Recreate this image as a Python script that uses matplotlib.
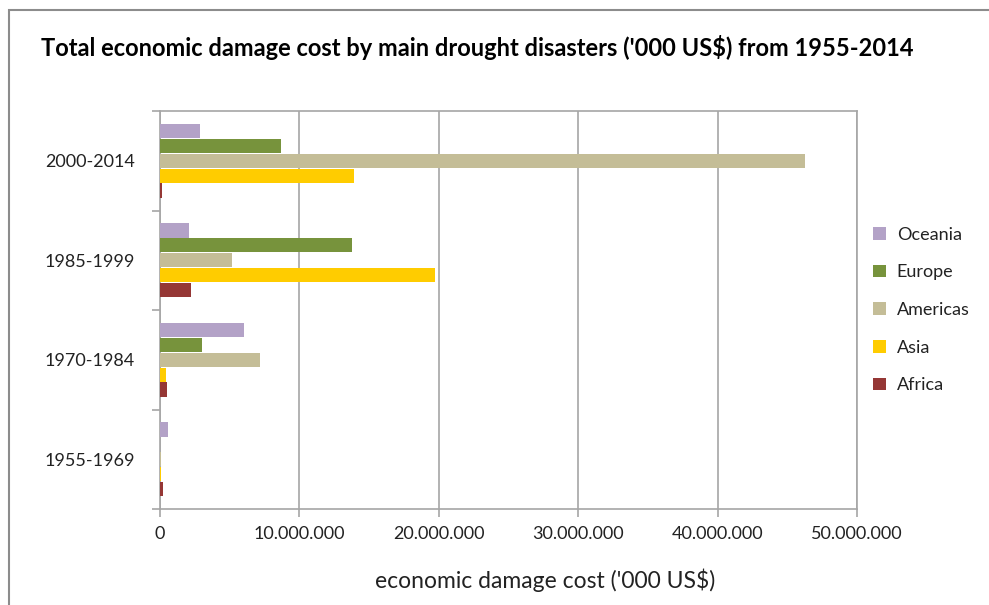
import matplotlib
matplotlib.use("Agg")
import matplotlib.pyplot as plt
from matplotlib.patches import Rectangle
from matplotlib.ticker import FuncFormatter, FixedLocator

plt.rcParams['font.family'] = ['Lato', 'DejaVu Sans']

periods = ["1955-1969", "1970-1984", "1985-1999", "2000-2014"]
regions = ["Oceania", "Europe", "Americas", "Asia", "Africa"]
colors = ["#B3A2C7", "#77933C", "#C4BD97", "#FFCC00", "#953735"]

# damage cost per period, '000 US$
oceania = [600000, 6000000, 2100000, 2850000]
europe = [0, 3000000, 13800000, 8650000]
americas = [100000, 7200000, 5200000, 46300000]
asia = [100000, 400000, 19700000, 13900000]
africa = [200000, 500000, 2200000, 150000]
values = [oceania, europe, americas, asia, africa]

fig = plt.figure(figsize=(9.89, 6.05), dpi=100)
ax = fig.add_axes([160 / 989, 1 - 509 / 605, 697 / 989, 398 / 605])

bar_h = 0.15
offsets = [0.3, 0.15, 0.0, -0.15, -0.3]
handles = []
for name, vals, col, off in zip(regions, values, colors, offsets):
    ys = [i + off for i in range(len(periods))]
    b = ax.barh(ys, vals, height=bar_h * 0.96, color=col, edgecolor="none",
                label=name, zorder=3)
    handles.append(b)

ax.set_xlim(0, 50000000)
ax.set_ylim(-0.5, len(periods) - 0.5)
ax.set_xticks(range(0, 50000001, 10000000))
ax.xaxis.set_major_formatter(FuncFormatter(lambda v, p: f"{int(v):,}".replace(",", ".")))
ax.grid(axis="x", color="#a6a6a6", linewidth=1.2, zorder=0)

# category boundaries get the tick marks, names sit between them
ax.yaxis.set_major_locator(FixedLocator([i - 0.5 for i in range(len(periods) + 1)]))
ax.yaxis.set_minor_locator(FixedLocator(range(len(periods))))
ax.yaxis.set_major_formatter(FuncFormatter(lambda v, p: ""))
ax.set_yticklabels(periods, minor=True)
ax.tick_params(axis="y", which="minor", length=0, pad=18, labelsize=13, colors="#222222")
ax.tick_params(axis="y", which="major", length=6, width=1.2, color="#a6a6a6")
ax.tick_params(axis="x", length=6, width=1.2, color="#a6a6a6", pad=6,
               labelsize=13, labelcolor="#222222")

for s in ax.spines.values():
    s.set_color("#a6a6a6")
    s.set_linewidth(1.2)

ax.set_xlabel("economic damage cost ('000 US$)", fontsize=16.5, color="#222222")
ax.xaxis.set_label_coords(0.552, -0.15)

fig.text(41 / 989, 1 - 47 / 605, "Total economic damage cost by main drought disasters ('000 US$) from 1955-2014",
         fontsize=17, fontweight="bold", va="center", ha="left")

fig.legend(handles=handles, labels=regions, loc="center left",
           bbox_to_anchor=(857 / 989, 1 - 310 / 605), frameon=False,
           fontsize=13, handlelength=0.7, handleheight=0.7, handletextpad=0.6,
           labelspacing=1.2, labelcolor="#222222")

fig.patches.append(Rectangle((9 / 989, -0.1), 1.2, 1 - 10 / 605 + 0.1,
                             transform=fig.transFigure, fill=False,
                             edgecolor="#8c8c8c", linewidth=1.5))

fig.savefig("out.png", dpi=100)
